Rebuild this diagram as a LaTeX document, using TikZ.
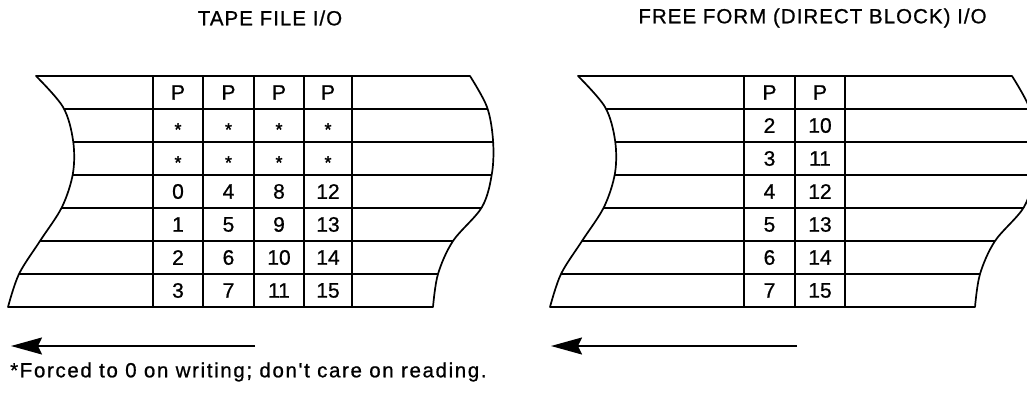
\documentclass[tikz,border=0pt]{standalone}
\usepackage{fontspec}
\setmainfont{Liberation Sans}
\newfontfamily\titlefont[LetterSpace=5,FakeBold=0.8]{Liberation Sans}
\newfontfamily\notefont[LetterSpace=8,FakeBold=0.8]{Liberation Sans}
\newfontfamily\cellfont[FakeBold=0.8]{Liberation Sans}
\newfontfamily\starfont[FakeBold=1.5]{Liberation Sans}
\usetikzlibrary{arrows.meta}
\tikzset{
  tapeline/.style={line width=1.7pt, line join=round},
  celltxt/.style={font=\cellfont\fontsize{21}{24}\selectfont, inner sep=0pt, anchor=center},
  startxt/.style={font=\starfont\fontsize{18}{20}\selectfont, inner sep=0pt, anchor=center, yshift=-4pt},
  titletxt/.style={font=\titlefont\fontsize{20.5}{24}\selectfont, inner sep=0pt},
  movearrow/.style={line width=1.7pt, -{Stealth[length=31pt, width=17pt, inset=4pt]}},
}
\newcommand{\tapeoutline}{(36,76) -- plot[smooth,tension=0.55] coordinates {(470,76) (487,107) (493,140) (492,173) (482,207) (453,241) (438,274) (433,307)} -- plot[smooth,tension=0.55] coordinates {(8,307) (19,274) (40,241) (62,207) (73,173) (73,140) (63,107) (36,76)} -- cycle}
\begin{document}
\begin{tikzpicture}[x=1pt,y=-1pt]
\useasboundingbox (0,0) rectangle (1027,406);
\begin{scope}
\clip (0,0) rectangle (1027,406);
% ---------- left tape ----------
\begin{scope}
  \begin{scope}
    \clip \tapeoutline;
    \foreach \yy in {109,142,175,208,241,274} {
      \draw[tapeline] (0,\yy) -- (520,\yy);
    }
  \end{scope}
  \draw[tapeline] \tapeoutline;
  \foreach \xx in {153,203,254,304,352} {
    \draw[tapeline] (\xx,76) -- (\xx,307);
  }
\end{scope}
% ---------- right tape ----------
\begin{scope}[xshift=542pt]
  \begin{scope}
    \clip \tapeoutline;
    \foreach \yy in {109,142,175,208,241,274} {
      \draw[tapeline] (0,\yy) -- (520,\yy);
    }
  \end{scope}
  \draw[tapeline] \tapeoutline;
  \foreach \xx in {202,253,303} {
    \draw[tapeline] (\xx,76) -- (\xx,307);
  }
\end{scope}
\end{scope}
% ---------- left cells ----------
\foreach \xx/\c in {178/1,228.5/2,279/3,328/4} {
  \node[celltxt] (LP\c) at (\xx,92.5) {P};
  \node[startxt] (LSa\c) at (\xx,125.5) {*};
  \node[startxt] (LSb\c) at (\xx,158.5) {*};
}
\foreach \xx/\c/\n in {178/1/0,228.5/2/4,279/3/8,328/4/12} {
  \pgfmathtruncatemacro{\na}{\n}
  \pgfmathtruncatemacro{\nb}{\n+1}
  \pgfmathtruncatemacro{\nc}{\n+2}
  \pgfmathtruncatemacro{\nd}{\n+3}
  \node[celltxt] (La\c) at (\xx,191.5) {\na};
  \node[celltxt] (Lb\c) at (\xx,224.5) {\nb};
  \node[celltxt] (Lc\c) at (\xx,257.5) {\nc};
  \node[celltxt] (Ld\c) at (\xx,290.5) {\nd};
}
% ---------- right cells ----------
\foreach \xx/\c/\n in {769.5/1/2,820/2/10} {
  \node[celltxt] (RP\c) at (\xx,92.5) {P};
  \foreach \k in {0,...,5} {
    \pgfmathtruncatemacro{\v}{\n+\k}
    \node[celltxt] (R\k\c) at (\xx,125.5+33*\k) {\v};
  }
}
% ---------- titles ----------
\node[titletxt] (t1) at (270,18) {TAPE FILE I/O};
\node[titletxt] (t2) at (812.5,18) {FREE FORM (DIRECT BLOCK) I/O};
% ---------- arrows ----------
\coordinate (a1s) at (255,346);
\coordinate (a1e) at (11,346);
\coordinate (a2s) at (797,346);
\coordinate (a2e) at (551,346);
\draw[movearrow] (a1s) -- (a1e);
\draw[movearrow] (a2s) -- (a2e);
% ---------- footnote ----------
\node[font=\notefont\fontsize{20.5}{24}\selectfont, inner sep=0pt, anchor=west] (note) at (10,372) {*Forced to 0 on writing; don't care on reading.};
\end{tikzpicture}
\end{document}
